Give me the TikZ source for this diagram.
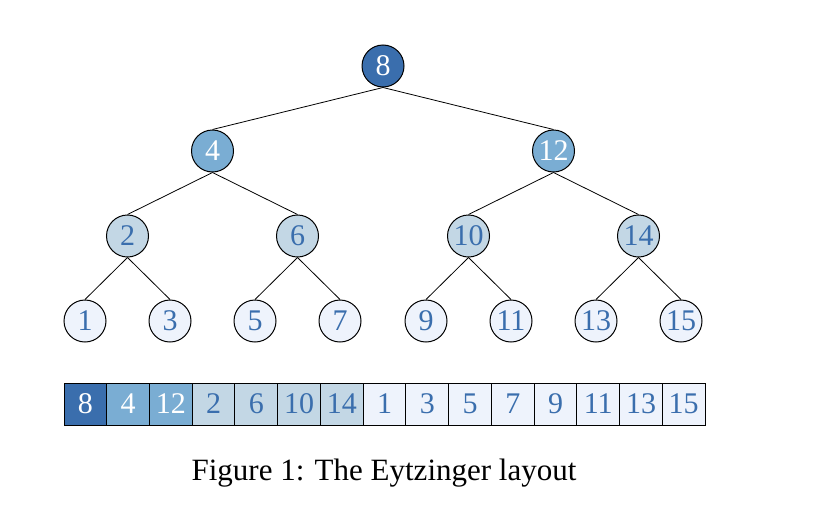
\documentclass[tikz,border=0pt]{standalone}
\usepackage{fontspec}
\setmainfont{Liberation Serif}
\usetikzlibrary{positioning}

\definecolor{deepblue}{HTML}{3A6EAD}
\definecolor{midblue}{HTML}{7AADD3}
\definecolor{paleblue}{HTML}{C3D7E5}
\definecolor{iceblue}{HTML}{EEF3FC}

\begin{document}
\begin{tikzpicture}[
    x=0.5pt, y=-0.5pt,
    font=\fontsize{15}{18}\selectfont,
    on grid,
    vertex/.style={circle, draw, line width=0.5pt, minimum size=21pt, inner sep=0pt},
    rootnode/.style={vertex, fill=deepblue, text=white},
    innernode/.style={vertex, fill=midblue, text=white},
    midnode/.style={vertex, fill=paleblue, text=deepblue},
    leafnode/.style={vertex, fill=iceblue, text=deepblue},
    cell/.style={rectangle, draw, line width=0.5pt, minimum width=21.37pt, minimum height=21pt, inner sep=0pt},
    edge/.style={line width=0.4pt}
]
\useasboundingbox (0,0) rectangle (822,514);

% Tree
\node[rootnode] (n8) at (383,66) {8};

\node[innernode, below left=42.5pt and 85.25pt of n8] (n4) {4};
\node[innernode, below right=42.5pt and 85.25pt of n8] (n12) {12};

\node[midnode, below left=42.5pt and 42.5pt of n4] (n2) {2};
\node[midnode, below right=42.5pt and 42.5pt of n4] (n6) {6};
\node[midnode, below left=42.5pt and 42.5pt of n12] (n10) {10};
\node[midnode, below right=42.5pt and 42.5pt of n12] (n14) {14};

\node[leafnode, below left=42.5pt and 21.25pt of n2] (n1) {1};
\node[leafnode, below right=42.5pt and 21.25pt of n2] (n3) {3};
\node[leafnode, below left=42.5pt and 21.25pt of n6] (n5) {5};
\node[leafnode, below right=42.5pt and 21.25pt of n6] (n7) {7};
\node[leafnode, below left=42.5pt and 21.25pt of n10] (n9) {9};
\node[leafnode, below right=42.5pt and 21.25pt of n10] (n11) {11};
\node[leafnode, below left=42.5pt and 21.25pt of n14] (n13) {13};
\node[leafnode, below right=42.5pt and 21.25pt of n14] (n15) {15};

% Tree edges
\draw[edge] (n8.south) -- (n4.north);
\draw[edge] (n8.south) -- (n12.north);
\draw[edge] (n4.south) -- (n2.north);
\draw[edge] (n4.south) -- (n6.north);
\draw[edge] (n12.south) -- (n10.north);
\draw[edge] (n12.south) -- (n14.north);
\draw[edge] (n2.south) -- (n1.north);
\draw[edge] (n2.south) -- (n3.north);
\draw[edge] (n6.south) -- (n5.north);
\draw[edge] (n6.south) -- (n7.north);
\draw[edge] (n10.south) -- (n9.north);
\draw[edge] (n10.south) -- (n11.north);
\draw[edge] (n14.south) -- (n13.north);
\draw[edge] (n14.south) -- (n15.north);

% Array
\node[cell, fill=deepblue, text=white] (a1) at (85.37,404) {8};
\node[cell, fill=midblue, text=white, right=21.37pt of a1] (a2) {4};
\node[cell, fill=midblue, text=white, right=21.37pt of a2] (a3) {12};
\node[cell, fill=paleblue, text=deepblue, right=21.37pt of a3] (a4) {2};
\node[cell, fill=paleblue, text=deepblue, right=21.37pt of a4] (a5) {6};
\node[cell, fill=paleblue, text=deepblue, right=21.37pt of a5] (a6) {10};
\node[cell, fill=paleblue, text=deepblue, right=21.37pt of a6] (a7) {14};
\node[cell, fill=iceblue, text=deepblue, right=21.37pt of a7] (a8) {1};
\node[cell, fill=iceblue, text=deepblue, right=21.37pt of a8] (a9) {3};
\node[cell, fill=iceblue, text=deepblue, right=21.37pt of a9] (a10) {5};
\node[cell, fill=iceblue, text=deepblue, right=21.37pt of a10] (a11) {7};
\node[cell, fill=iceblue, text=deepblue, right=21.37pt of a11] (a12) {9};
\node[cell, fill=iceblue, text=deepblue, right=21.37pt of a12] (a13) {11};
\node[cell, fill=iceblue, text=deepblue, right=21.37pt of a13] (a14) {13};
\node[cell, fill=iceblue, text=deepblue, right=21.37pt of a14] (a15) {15};

% Caption
\node[font=\fontsize{15.5}{18}\selectfont] (caption) at (384,473) {Figure 1: The Eytzinger layout};

\end{tikzpicture}
\end{document}
